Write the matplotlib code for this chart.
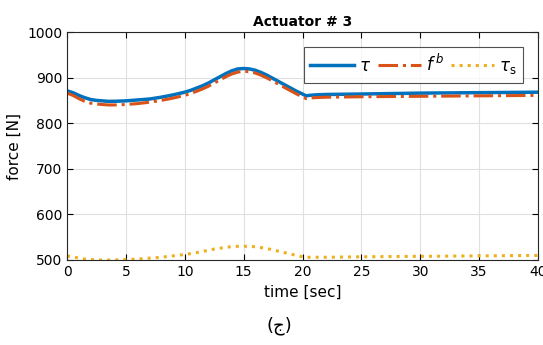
import matplotlib
matplotlib.use('Agg')
import matplotlib.pyplot as plt

t = [0, 0.5, 1, 1.5, 2, 2.5, 3, 3.5, 4, 5, 6, 7, 8, 9, 10, 10.5, 11, 11.5, 12, 12.5,
     13, 13.5, 14, 14.5, 15, 15.5, 16, 16.5, 17, 17.5, 18, 18.5, 19, 19.5, 20, 20.3,
     20.6, 21, 22, 25, 30, 35, 40]
tau = [871, 867, 861, 856, 852, 850, 849, 848, 848, 849, 851, 853, 857, 862, 868, 872,
       877, 882, 888, 895, 902, 909, 915, 919, 920, 919, 916, 911, 905, 898, 891, 884,
       877, 870, 864, 860, 861, 862, 863, 864, 866, 867, 868]
fb = [866, 861, 854, 848, 844, 842, 841, 840, 840, 841, 843, 846, 850, 855, 861, 865,
      870, 875, 881, 888, 895, 902, 908, 912, 914, 913, 910, 905, 899, 892, 885, 878,
      871, 864, 858, 854, 855, 856, 857, 858, 859, 860, 861]
tau_s = [509, 507, 504, 502, 501, 500, 500, 500, 500, 501, 502, 504, 506, 509, 512, 514,
         516, 519, 521, 524, 526, 528, 529, 530, 530, 530, 529, 527, 525, 522, 519, 516,
         513, 510, 507, 506, 506, 506, 506, 507, 508, 509, 510]

fig = plt.figure(figsize=(5.43, 3.45), dpi=100)
ax = fig.add_axes([0.1234, 0.2464, 0.8674, 0.6608])

ax.plot(t, tau, color='#0072BD', lw=2.5, label=r'$\tau$')
ax.plot(t, fb, color='#D95319', lw=2.2, ls='-.', label=r'$f^{\,b}$')
ax.plot(t, tau_s, color='#EDB120', lw=2.2, ls=':', label=r'$\tau_{\rm s}$')

ax.set_xlim(0, 40)
ax.set_ylim(500, 1000)
ax.set_xticks(range(0, 41, 5))
ax.set_yticks(range(500, 1001, 100))
ax.grid(True, color='#e0e0e0', lw=0.8)
ax.tick_params(direction='in', top=True, right=True, labelsize=10, length=4)
for s in ax.spines.values():
    s.set_color('#262626')
ax.set_xlabel('time [sec]', fontsize=11)
ax.set_ylabel('force [N]', fontsize=11)
ax.set_title('Actuator # 3', fontsize=10, fontweight='bold', pad=4)

leg = ax.legend(loc='upper right', ncol=3, fontsize=12, frameon=True, fancybox=False,
                edgecolor='#262626', handlelength=2.6, columnspacing=0.4,
                handletextpad=0.3, borderaxespad=0.9)
leg.get_frame().set_linewidth(0.8)

fig.text(0.515, 0.055, '(ج)', ha='center', va='center', fontsize=13,
         family=['DejaVu Sans'])

fig.savefig('out.png', dpi=100)
